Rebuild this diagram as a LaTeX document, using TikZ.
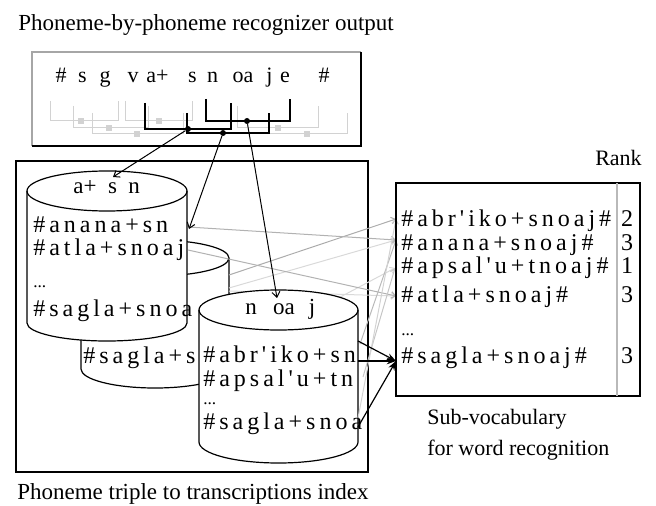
\documentclass[tikz,border=0pt]{standalone}
\usepackage{fontspec}
\setmainfont{Liberation Serif}
\newfontfamily\entryfont[LetterSpace=16.7]{Liberation Serif}
\usetikzlibrary{arrows.meta}
\tikzset{
  lbl/.style={anchor=base west,inner sep=0pt,font=\fontsize{16.5pt}{19pt}\selectfont},
  biglbl/.style={anchor=base west,inner sep=0pt,font=\fontsize{17.25pt}{19pt}\selectfont},
  ph/.style={anchor=base,inner sep=0pt,font=\fontsize{16.5pt}{19pt}\selectfont},
  cyllbl/.style={anchor=base,inner sep=0pt,font=\fontsize{17.25pt}{19pt}\selectfont},
  entry/.style={anchor=base west,inner sep=0pt,font=\entryfont\fontsize{18pt}{20pt}\selectfont},
  ell/.style={anchor=base west,inner sep=0pt,font=\fontsize{13pt}{14pt}\selectfont},
  rk/.style={anchor=base,inner sep=0pt,font=\fontsize{18pt}{20pt}\selectfont},
  frame/.style={draw=black,line width=1.1pt},
  cyl/.style={draw=black,line width=0.9pt,fill=white},
  blk/.style={draw=black,line width=1.1pt},
  gbr/.style={draw=gray!35,line width=0.75pt},
  gsq/.style={fill=gray!35,inner sep=0pt,minimum size=4pt},
  jdot/.style={circle,fill=black,inner sep=0pt,minimum size=4.5pt},
  conn/.style={draw=black,line width=0.75pt,-{Straight Barb[length=4pt,width=6pt]}},
  gline/.style={line width=0.75pt,-{Straight Barb[length=3pt,width=5pt]}},
  bline/.style={draw=black,line width=0.9pt,-{Stealth[length=7pt,width=5pt]}},
}
\newcommand{\mycyl}[7]{%
  \path[cyl] (#1,#3) arc[start angle=180,end angle=360,x radius=#7,y radius=#4]
     -- (#2,#5) arc[start angle=0,end angle=180,x radius=#7,y radius=#6] -- cycle;
  \draw[cyl,fill=none] (#1,#3) arc[start angle=180,end angle=0,x radius=#7,y radius=#4];
}
\begin{document}
\begin{tikzpicture}[x=0.75pt,y=-0.75pt]
\useasboundingbox (0,0) rectangle (656,506);

% ---------- top: recognizer output ----------
\node[biglbl] (title) at (18,31) {Phoneme-by-phoneme recognizer output};
\draw[draw=gray!70,line width=0.9pt] (32,146) -- (32,52) -- (361,52);
\draw[draw=black,line width=1.1pt] (32,146) -- (361,146) -- (361,52);
\node[ph] (p1) at (61,83) {\#};
\node[ph] (p2) at (82.5,83) {s};
\node[ph] (p3) at (105,83) {g};
\node[ph] (p4) at (133,83) {v};
\node[ph] (p5) at (157.5,83) {a+};
\node[ph] (p6) at (192.5,83) {s};
\node[ph] (p7) at (212.5,83) {n};
\node[ph] (p8) at (243,83) {oa};
\node[ph] (p9) at (269.5,83) {j};
\node[ph] (p10) at (285,83) {e};
\node[ph] (p11) at (324,83) {\#};

% gray triple brackets
\draw[gbr] (50,101) -- (50,121) -- (118,121) -- (118,101);
\node[gsq] (g0) at (81,121) {};
\draw[gbr] (73,106) -- (73,128) -- (148,128) -- (148,106);
\node[gsq] (g1) at (109,128) {};
\draw[gbr] (92,113) -- (92,134) -- (183,134) -- (183,113);
\node[gsq] (g2) at (137,134) {};
\draw[gbr] (125,101) -- (125,121) -- (192,121) -- (192,101);
\node[gsq] (g3) at (159,121) {};
\draw[gbr] (237,106) -- (237,128) -- (318,128) -- (318,106);
\node[gsq] (g7) at (278,128) {};
\draw[gbr] (268,113) -- (268,134) -- (347,134) -- (347,113);
\node[gsq] (g8) at (307,134) {};

% black triple brackets
\draw[blk] (145,103) -- (145,129) -- (231,129) -- (231,103);
\draw[blk] (187,113) -- (187,133) -- (269,133) -- (269,113);
\draw[blk] (206,99) -- (206,121) -- (290,121) -- (290,99);
\node[jdot] (d1) at (188,129) {};
\node[jdot] (d2) at (223,133) {};
\node[jdot] (d3) at (247,121) {};

% ---------- index frame ----------
\draw[frame] (16,161) rectangle (368,472);
\node[biglbl] (idxlbl) at (17,499) {Phoneme triple to transcriptions index};

% middle cylinder (s n oa)
\mycyl{81}{229}{258}{18}{369}{19}{74}
\node[entry] (m1) at (83,363) {\#sagla+s};

% lines leaving the middle cylinder
\coordinate (ms1) at (229,275);
\coordinate (ms2) at (229,288);
\coordinate (ms3) at (229,291);
\coordinate (ms4) at (229,356);
\coordinate (row1) at (396,219);
\coordinate (row2) at (396,240);
\coordinate (row3) at (395,268);
\coordinate (row4) at (396,296);
\coordinate (row6) at (396,361);
\draw[gline,draw=gray!65] (ms1) -- (row1);
\draw[gline,draw=gray!30] (ms2) -- (row2);
\draw[gline,draw=gray!30] (ms3) -- (row4);
\draw[gline,draw=gray!30] (ms4) -- (row3);

% cylinder a+ s n
\mycyl{27}{187}{191}{20}{323}{18}{80}
\node[cyllbl] (c1a) at (85,193) {a+};
\node[cyllbl] (c1b) at (112.5,193) {s};
\node[cyllbl] (c1c) at (134,193) {n};
\node[entry] (e11) at (33,232) {\#anana+sn};
\node[entry] (e12) at (33,255) {\#atla+snoaj};
\node[ell] (e13) at (33,287) {...};
\node[entry] (e14) at (33,316) {\#sagla+snoa};

\coordinate (cs1) at (188,227);
\coordinate (cs2) at (188,250);
\draw[gline,draw=gray!60] (cs1) -- (row2);
\draw[gline,draw=gray!60] (cs2) -- (row4);

% cylinder n oa j
\mycyl{199}{358}{310}{20}{442}{21}{79.5}
\node[cyllbl] (c3a) at (251,314) {n};
\node[cyllbl] (c3b) at (284,314) {oa};
\node[cyllbl] (c3c) at (312,314) {j};
\node[entry] (e31) at (203,362) {\#abr'iko+sn};
\node[entry] (e32) at (203,386) {\#apsal'u+tn};
\node[ell] (e33) at (203,404) {...};
\node[entry] (e34) at (203,429) {\#sagla+snoa};

\coordinate (ts1) at (358,341);
\coordinate (ts2) at (358,361);
\coordinate (ts3) at (358,427);
\coordinate (ts4) at (360,344);
\coordinate (ts5) at (363,377);
\coordinate (ts6) at (358,418);
\draw[gline,draw=gray!55] (ts4) -- (row2);
\draw[gline,draw=gray!45] (ts5) -- (row3);
\draw[gline,draw=gray!35] (ts6) -- (row1);
\draw[bline] (ts1) -- (row6);
\draw[bline] (ts2) -- (row6);
\draw[bline] (ts3) -- (row6);

% arrows from the selected triples
\coordinate (t1) at (113,177);
\coordinate (t2) at (189,229);
\coordinate (t3) at (277,298);
\draw[conn] (d1) -- (t1);
\draw[conn] (d2) -- (t2);
\draw[conn] (d3) -- (t3);

% ---------- sub-vocabulary ----------
\node[lbl] (rank) at (595,166) {Rank};
\draw[frame] (396,183) rectangle (640,396);
\draw[draw=gray!55,line width=0.9pt] (617,183) -- (617,396);
\node[entry] (w1) at (401,226) {\#abr'iko+snoaj\#};
\node[entry] (w2) at (401,250) {\#anana+snoaj\#};
\node[entry] (w3) at (401,273) {\#apsal'u+tnoaj\#};
\node[entry] (w4) at (401,302) {\#atla+snoaj\#};
\node[ell] (w5) at (401,335) {...};
\node[entry] (w6) at (401,363) {\#sagla+snoaj\#};
\node[rk] (k1) at (627,226) {2};
\node[rk] (k2) at (627,250) {3};
\node[rk] (k3) at (627,273) {1};
\node[rk] (k4) at (627,302) {3};
\node[rk] (k6) at (627,363) {3};
\node[lbl] (sub1) at (427,424) {Sub-vocabulary};
\node[lbl] (sub2) at (427,455) {for word recognition};
\end{tikzpicture}
\end{document}
